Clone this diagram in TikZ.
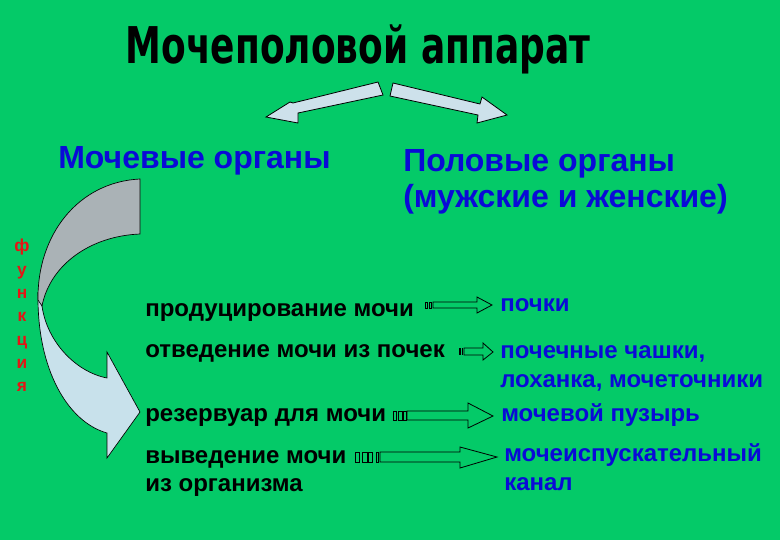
\documentclass[tikz,border=0pt]{standalone}
\usepackage{fontspec}
\setmainfont{Liberation Sans}
\newfontfamily\titlefont{DejaVu Sans}
\definecolor{bggreen}{RGB}{4,202,104}
\definecolor{txtblue}{RGB}{10,10,215}
\definecolor{txtred}{RGB}{230,20,20}
\definecolor{arrblue}{RGB}{205,225,235}
\definecolor{arrgray}{RGB}{170,178,182}
\definecolor{curveblue}{RGB}{200,225,235}
\tikzset{
  heading/.style={anchor=base west, inner sep=0pt, text=txtblue, font=\fontsize{24}{28}\selectfont\bfseries},
  item/.style={anchor=base west, inner sep=0pt, text=black, font=\fontsize{18}{22}\selectfont\bfseries},
  organ/.style={anchor=base west, inner sep=0pt, text=txtblue, font=\fontsize{18}{22}\selectfont\bfseries},
  redletter/.style={anchor=base, inner sep=0pt, text=txtred, font=\fontsize{13}{14}\selectfont\bfseries},
  blockarrow/.style={draw=black, line width=0.6pt, fill=arrblue, line join=miter},
  thinarrow/.style={draw=black, line width=0.6pt},
}
\begin{document}
\begin{tikzpicture}[x=0.75pt,y=-0.75pt]
\fill[bggreen] (0,0) rectangle (780,540);
\useasboundingbox (0,0) rectangle (780,540);

% title
\node[anchor=base, inner sep=0pt, font=\titlefont\fontsize{38}{44}\selectfont\bfseries, xscale=0.71] (title) at (358,63) {Мочеполовой аппарат};

% two block arrows
\path[blockarrow] (378,82) -- (293,103) -- (290,102) -- (266,117) -- (298,123) -- (298,113) -- (383,95) -- cycle;
\path[blockarrow] (393,83) -- (480,104) -- (482,97) -- (507,115) -- (477,123) -- (478,115) -- (390,96) -- cycle;

% headings
\node[heading] (uro) at (58,168) {Мочевые органы};
\node[heading] (gen1) at (403,171) {Половые органы};
\node[heading] (gen2) at (403,207) {(мужские и женские)};

% red vertical word
\node[redletter] (f1) at (22,251) {ф};
\node[redletter] (f2) at (22,275) {у};
\node[redletter] (f3) at (22,298) {н};
\node[redletter] (f4) at (22,321) {к};
\node[redletter] (f5) at (22,345) {ц};
\node[redletter] (f6) at (22,368) {и};
\node[redletter] (f7) at (22,391) {я};

% curved arrow: lower light-blue part
\path[draw=black, line width=0.5pt, fill=curveblue]
  (38,294) .. controls (37,370) and (68,422) .. (107,433)
  -- (107,458) -- (140,412) -- (107,352) -- (107,378)
  .. controls (76,372) and (47,342) .. (42,306) -- cycle;
% upper gray part
\path[draw=black, line width=0.5pt, fill=arrgray]
  (140,179) .. controls (78,182) and (37,235) .. (38,300)
  -- (42,306) .. controls (50,265) and (90,236) .. (140,234) -- cycle;

% function list
\node[item] (i1) at (145,316) {продуцирование мочи};
\node[item] (i2) at (145,357) {отведение мочи из почек};
\node[item] (i3) at (145,421) {резервуар для мочи};
\node[item] (i4a) at (145,463) {выведение мочи};
\node[item] (i4b) at (145,491) {из организма};

% organs
\node[organ] (o1) at (500,311) {почки};
\node[organ] (o2a) at (500,358) {почечные чашки,};
\node[organ] (o2b) at (500,387) {лоханка, мочеточники};
\node[organ] (o3) at (501,421) {мочевой пузырь};
\node[organ] (o4a) at (504,461) {мочеиспускательный};
\node[organ] (o4b) at (504,490) {канал};

% striped arrows
% 1
\draw[thinarrow] (425,302) rectangle (427,308) (429,302) rectangle (431,308);
\draw[thinarrow] (433,302) -- (477,302) -- (477,297) -- (492,305) -- (477,313) -- (477,308) -- (433,308) -- cycle;
% 2
\draw[thinarrow, line width=1.2pt] (460,348) -- (460,355) (462.5,348) -- (462.5,355);
\draw[thinarrow] (464,348) -- (483,348) -- (483,343) -- (493,352) -- (483,360) -- (483,355) -- (464,355) -- cycle;
% 3
\draw[thinarrow] (393,411) rectangle (396,420) (398,411) rectangle (402,420) (403,411) rectangle (406,420);
\draw[thinarrow] (407,411) -- (468,411) -- (468,403) -- (493,416) -- (468,428) -- (468,420) -- (407,420) -- cycle;
% 4
\draw[thinarrow] (355,452) rectangle (359,462) (362,452) rectangle (367,462) (368,452) rectangle (372,462) (376,452) rectangle (378,462);
\draw[thinarrow] (380,452) -- (460,452) -- (460,447) -- (497,457) -- (460,468) -- (460,462) -- (380,462) -- cycle;
\end{tikzpicture}
\end{document}
